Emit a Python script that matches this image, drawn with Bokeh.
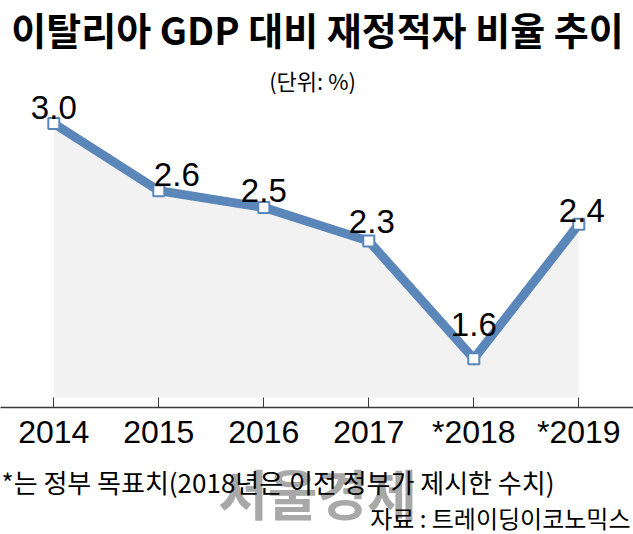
from bokeh.plotting import figure
from bokeh.layouts import column
from bokeh.models import Label, FixedTicker, ColumnDataSource
from bokeh.core.properties import value
from bokeh.embed import file_html
from bokeh.resources import INLINE

# ---- data ----
YEARS = ["2014", "2015", "2016", "2017", "*2018", "*2019"]
DEFICIT = [3.0, 2.6, 2.5, 2.3, 1.6, 2.4]
LABELS = ["3.0", "2.6", "2.5", "2.3", "1.6", "2.4"]

TITLE = "이탈리아 GDP 대비 재정적자 비율 추이"
UNIT = "(단위: %)"
NOTE = "*는 정부 목표치(2018년은 이전 정부가 제시한 수치)"
SOURCE = "자료 : 트레이딩이코노믹스"
WATERMARK = "서울경제"

# ---- style ----
LINE_COLOR = "#5b86b9"
AREA_COLOR = "#f2f2f2"
AXIS_COLOR = "#3a3a3a"
NUM_FONT = "Liberation Sans"
KR_FONT = "Noto Sans CJK KR"
AREA_FLOOR = 1.369
LABEL_DX = [0, 18, 0, 3, 0, 3]
LABEL_DY = [-16, -16, -17, -20, -34, -14]

W = 633
H_ALL = 534
FRAME_H = 407
H_TOP = 452
H_BOT = H_ALL - H_TOP

idx = list(range(len(YEARS)))
src = ColumnDataSource(dict(x=idx, y=DEFICIT, lab=LABELS, dx=LABEL_DX, dy=LABEL_DY))

p = figure(width=W, height=H_TOP, output_backend="svg", toolbar_location=None,
           x_range=(-0.5076, 5.521), y_range=(1.3095, 3.732),
           min_border_left=0, min_border_right=0, min_border_top=0,
           min_border_bottom=H_TOP - FRAME_H)
p.outline_line_color = None
p.grid.visible = False
p.yaxis.visible = False
p.background_fill_color = "white"
p.border_fill_color = "white"

p.varea(x="x", y1=AREA_FLOOR, y2="y", source=src, fill_color=AREA_COLOR)
p.line(x="x", y="y", source=src, line_width=9, line_color=LINE_COLOR, line_join="miter")
p.scatter(x="x", y="y", source=src, marker="square", size=11,
          fill_color="white", line_color=LINE_COLOR, line_width=2)
p.text(x="x", y="y", text="lab", source=src, x_offset="dx", y_offset="dy",
       text_font=value(NUM_FONT), text_font_size="33px", text_color="black",
       text_align="center", text_baseline="alphabetic")

ax = p.xaxis[0]
ax.ticker = FixedTicker(ticks=idx)
ax.major_label_overrides = {i: y for i, y in zip(idx, YEARS)}
ax.major_label_text_font = NUM_FONT
ax.major_label_text_font_size = "32px"
ax.major_label_text_color = "black"
ax.major_label_standoff = 6
ax.axis_line_color = AXIS_COLOR
ax.axis_line_width = 1.5
ax.major_tick_line_color = AXIS_COLOR
ax.major_tick_line_width = 1
ax.major_tick_in = 10
ax.major_tick_out = 0
ax.minor_tick_in = 0
ax.minor_tick_out = 0

p.add_layout(Label(x=317, y=FRAME_H - 28, x_units="screen", y_units="screen", text=TITLE,
                   text_font=KR_FONT, text_font_style="bold", text_font_size="38px",
                   text_align="center", text_baseline="middle", text_color="black"))
p.add_layout(Label(x=312, y=FRAME_H - 79, x_units="screen", y_units="screen", text=UNIT,
                   text_font=KR_FONT, text_font_size="22px",
                   text_align="center", text_baseline="middle", text_color="black"))

# ---- footnote panel ----
q = figure(width=W, height=H_BOT, output_backend="svg", toolbar_location=None,
           x_range=(0, W), y_range=(0, H_BOT),
           min_border_left=0, min_border_right=0, min_border_top=0, min_border_bottom=0)
q.outline_line_color = None
q.grid.visible = False
q.axis.visible = False
q.background_fill_color = "white"
q.border_fill_color = "white"

q.add_layout(Label(x=317, y=H_ALL - 492, x_units="screen", y_units="screen", text=WATERMARK,
                   text_font=KR_FONT, text_font_style="bold", text_font_size="54px",
                   text_align="center", text_baseline="middle", text_color="#a8a8a8"))
q.add_layout(Label(x=1, y=H_ALL - 481, x_units="screen", y_units="screen", text=NOTE,
                   text_font=KR_FONT, text_font_size="26px",
                   text_align="left", text_baseline="middle", text_color="black"))
q.add_layout(Label(x=630, y=H_ALL - 517, x_units="screen", y_units="screen", text=SOURCE,
                   text_font=KR_FONT, text_font_size="24px",
                   text_align="right", text_baseline="middle", text_color="black"))

open("out.html", "w").write(file_html(column(p, q, spacing=0), INLINE))
